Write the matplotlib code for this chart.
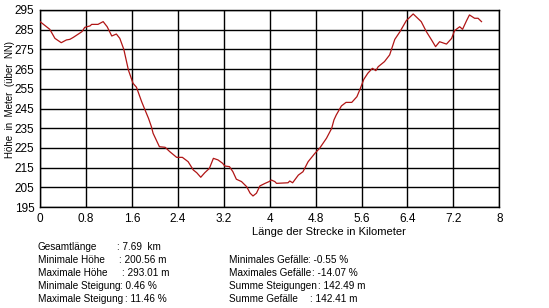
import matplotlib
matplotlib.use("Agg")
import matplotlib.pyplot as plt

plt.rcParams["font.family"] = ["Liberation Sans", "DejaVu Sans"]

# elevation profile (km, m)
dist_km = [0.00, 0.17, 0.26, 0.37, 0.46, 0.52, 0.58, 0.73, 0.78, 0.87, 0.90, 1.01,
           1.10, 1.17, 1.25, 1.33, 1.39, 1.46, 1.54, 1.62, 1.68, 1.77, 1.83, 1.89,
           1.94, 1.97, 2.08, 2.18, 2.26, 2.38, 2.48, 2.58, 2.67, 2.73, 2.80, 2.87,
           2.95, 3.02, 3.10, 3.18, 3.22, 3.30, 3.36, 3.42, 3.51, 3.60, 3.66, 3.71,
           3.77, 3.83, 3.92, 3.99, 4.03, 4.09, 4.12, 4.32, 4.35, 4.40, 4.50, 4.58,
           4.67, 4.79, 4.87, 4.99, 5.08, 5.12, 5.16, 5.25, 5.33, 5.43, 5.52, 5.58,
           5.64, 5.71, 5.79, 5.85, 5.89, 6.00, 6.09, 6.18, 6.27, 6.38, 6.50, 6.64,
           6.73, 6.82, 6.89, 6.96, 7.08, 7.17, 7.22, 7.31, 7.36, 7.43, 7.48, 7.57,
           7.63, 7.69]
hoehe_m = [289.1, 285.2, 280.6, 278.4, 279.8, 280.1, 281.1, 284.0, 286.2, 286.9, 287.7, 287.7,
           289.1, 286.5, 281.8, 282.8, 280.6, 275.0, 264.5, 257.8, 255.8, 248.5, 244.2, 240.0,
           235.8, 232.4, 225.6, 225.3, 223.1, 220.2, 220.2, 218.0, 213.8, 212.4, 210.1, 212.4,
           214.6, 219.7, 218.9, 217.2, 215.8, 215.5, 212.9, 209.1, 207.9, 205.3, 202.0, 200.6,
           202.0, 205.7, 207.0, 207.9, 208.7, 207.9, 207.0, 207.3, 208.2, 207.3, 211.2, 212.9,
           218.0, 222.3, 224.8, 229.9, 234.9, 239.2, 241.7, 246.3, 248.1, 248.1, 251.0, 255.2,
           259.8, 262.9, 265.4, 264.2, 266.2, 268.8, 272.2, 280.1, 284.0, 289.6, 293.0, 289.1,
           284.0, 279.8, 276.4, 278.9, 277.7, 280.6, 284.5, 286.5, 285.2, 289.6, 292.5, 290.8,
           290.8, 289.1]

x_ticks = [0, 0.8, 1.6, 2.4, 3.2, 4, 4.8, 5.6, 6.4, 7.2, 8]
x_tick_labels = ["0", "0.8", "1.6", "2.4", "3.2", "4", "4.8", "5.6", "6.4", "7.2", "8"]
y_ticks = [195, 205, 215, 225, 235, 245, 255, 265, 275, 285, 295]

stats_left = [
    ("Gesamtlänge", ": 7.69  km"),
    ("Minimale Höhe", ": 200.56 m"),
    ("Maximale Höhe", ": 293.01 m"),
    ("Minimale Steigung", ": 0.46 %"),
    ("Maximale Steigung", ": 11.46 %"),
]
stats_right = [
    ("Minimales Gefälle", ": -0.55 %"),
    ("Maximales Gefälle", ": -14.07 %"),
    ("Summe Steigungen", ": 142.49 m"),
    ("Summe Gefälle", ": 142.41 m"),
]

W, H = 549, 308
fig = plt.figure(figsize=(W / 100, H / 100), dpi=100)
fig.patch.set_facecolor("white")
ax = fig.add_axes([40 / W, 1 - 207 / H, (499.3 - 40) / W, (207 - 10) / H])

ax.plot(dist_km, hoehe_m, color="#B01515", lw=0.9, zorder=3)
ax.set_xlim(0, 8)
ax.set_ylim(195, 295)
ax.set_xticks(x_ticks)
ax.set_xticklabels(x_tick_labels)
ax.set_yticks(y_ticks)
ax.grid(True, color="black", lw=1.0)
for s in ax.spines.values():
    s.set_color("black")
    s.set_linewidth(1.0)
ax.tick_params(length=0, labelsize=8.5, pad=4)

fig.text(329 / W, 1 - 232 / H, "Länge der Strecke in Kilometer",
         ha="center", va="center", fontsize=8)
fig.text(10 / W, 1 - 100 / H, "Höhe  in  Meter  (über  NN)", rotation=90,
         ha="center", va="center", fontsize=7)

fs = 7.2
left_rows = [246.5, 260, 273, 286, 299]
left_colon_x = [117, 119, 122, 120, 125]
for (lab, val), yy, cx in zip(stats_left, left_rows, left_colon_x):
    fig.text(38 / W, 1 - yy / H, lab, ha="left", va="center", fontsize=fs)
    fig.text(cx / W, 1 - yy / H, val, ha="left", va="center", fontsize=fs)

right_rows = [260, 273, 286, 299]
right_colon_x = [308, 312, 318, 310]
for (lab, val), yy, cx in zip(stats_right, right_rows, right_colon_x):
    fig.text(228.7 / W, 1 - yy / H, lab, ha="left", va="center", fontsize=fs)
    fig.text(cx / W, 1 - yy / H, val, ha="left", va="center", fontsize=fs)

fig.savefig("out.png", dpi=100)
